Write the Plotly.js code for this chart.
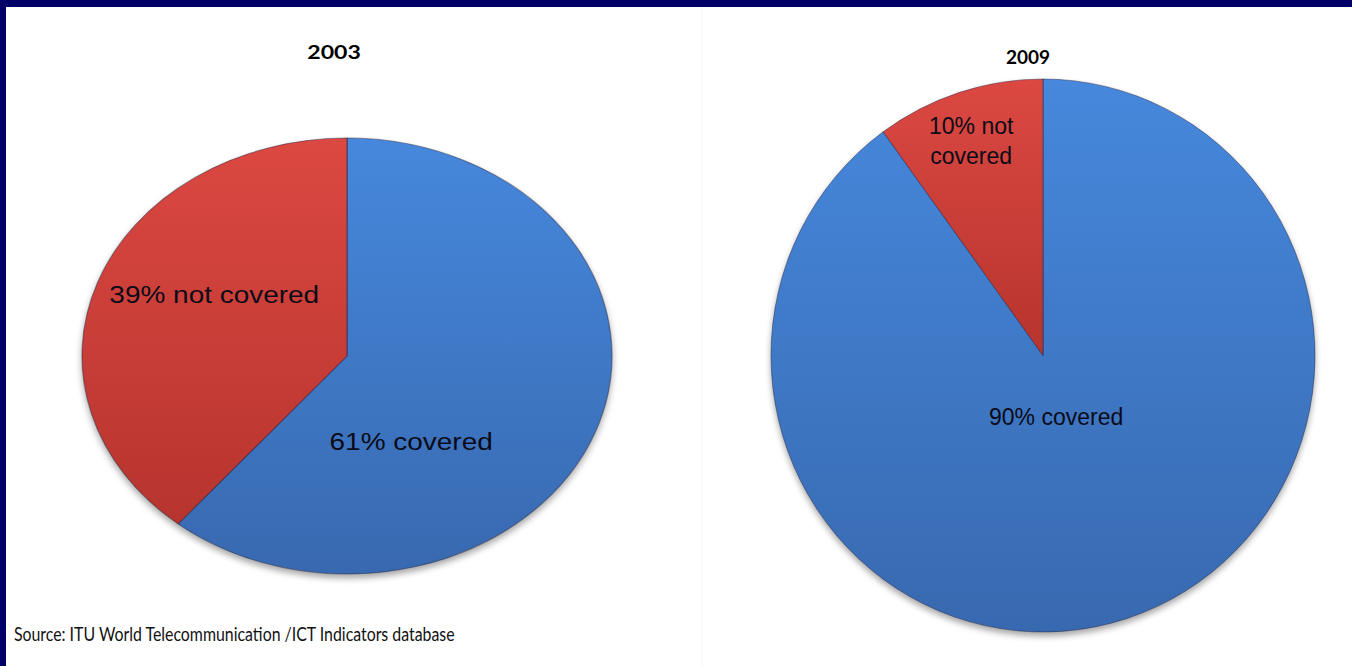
<!DOCTYPE html>
<html>
<head>
<meta charset="utf-8">
<script src="https://cdn.plot.ly/plotly-3.0.1.min.js"></script>
<style>
  html, body { margin: 0; padding: 0; background: #ffffff; }
  #chart { width: 1352px; height: 666px; }
</style>
</head>
<body>
<div id="chart"></div>
<script>
// ---- data ----
const years = ['2003', '2009'];
const sliceLabels = ['covered', 'not covered'];
const sliceLabelsWrapped = ['covered', 'not<br>covered'];
const values2003 = [61, 39];
const values2009 = [90, 10];
const sliceColors = ['#3f7bca', '#c83d37'];
const sourceText = 'Source: ITU World Telecommunication /ICT Indicators database';

// ---- layout helpers ----
const W = 1352, H = 666;
const fx = x => x / W;
const fy = y => 1 - y / H;
const navy = '#000066';
const labelFont = { family: 'Liberation Sans, Arial, sans-serif', size: 23, color: '#0b0b18' };
const titleFont = { family: 'Lato, Calibri, sans-serif', size: 19, color: '#000000', weight: 'bold' };

const pieCommon = {
  type: 'pie',
  sort: false,
  direction: 'clockwise',
  rotation: 0,
  textinfo: 'none',
  hoverinfo: 'skip',
  showlegend: false,
  marker: { colors: sliceColors, line: { color: 'rgba(30,30,60,0.45)', width: 1 } }
};

const data = [
  Object.assign({}, pieCommon, {
    name: years[0], labels: sliceLabels, values: values2003,
    domain: { x: [fx(129), fx(565)], y: [fy(574), fy(138)] }
  }),
  Object.assign({}, pieCommon, {
    name: years[1], labels: sliceLabels, values: values2009,
    domain: { x: [fx(766.5), fx(1319.5)], y: [fy(632), fy(79)] }
  })
];

function ann(text, x, y, font, extra) {
  return Object.assign({
    text: text, x: fx(x), y: fy(y), xref: 'paper', yref: 'paper',
    xanchor: 'center', yanchor: 'middle', showarrow: false, font: font
  }, extra || {});
}

const annotations = [
  ann(years[0], 333.5, 51, titleFont),
  ann(values2003[1] + '% ' + sliceLabels[1], 214, 295, labelFont),
  ann(values2003[0] + '% ' + sliceLabels[0], 410.5, 441.5, labelFont),
  ann(sourceText, 12, 633, { family: 'Lato, Calibri, sans-serif', size: 19, color: '#111111' }, { xanchor: 'left' }),
  ann(years[1], 1027.5, 56.5, titleFont),
  ann(values2009[1] + '% ' + sliceLabelsWrapped[1], 971, 141, { family: labelFont.family, size: 23, color: labelFont.color, lineposition: 'none' }),
  ann(values2009[0] + '% ' + sliceLabelsWrapped[0], 1055.5, 416.5, labelFont)
];

const layout = {
  width: W, height: H,
  margin: { l: 0, r: 0, t: 0, b: 0 },
  paper_bgcolor: '#ffffff',
  plot_bgcolor: '#ffffff',
  showlegend: false,
  annotations: annotations,
  shapes: [
    { type: 'line', xref: 'paper', yref: 'paper', x0: fx(702), x1: fx(702), y0: 0, y1: fy(7),
      line: { color: '#f6f6f6', width: 1 }, layer: 'below' },
    { type: 'rect', xref: 'paper', yref: 'paper', x0: 0, x1: fx(6), y0: 0, y1: 1,
      fillcolor: navy, line: { width: 0 }, layer: 'above' },
    { type: 'rect', xref: 'paper', yref: 'paper', x0: 0, x1: 1, y0: fy(7), y1: 1,
      fillcolor: navy, line: { width: 0 }, layer: 'above' }
  ]
};

Plotly.newPlot('chart', data, layout, { staticPlot: true, displayModeBar: false }).then(gd => {
  const svg = gd.querySelector('svg.main-svg');
  const sr = svg.getBoundingClientRect();
  const NS = 'http://www.w3.org/2000/svg';

  function stretchX(el, s, anchorLeft) {
    const r = el.getBoundingClientRect();
    const cx = (anchorLeft ? r.left : r.left + r.width / 2) - sr.left;
    const prev = el.getAttribute('transform') || '';
    el.setAttribute('transform', 'translate(' + cx + ',0) scale(' + s + ',1) translate(' + (-cx) + ',0) ' + prev);
  }

  // gradients to mimic the shaded slices
  const defs = svg.querySelector('defs') || svg.insertBefore(document.createElementNS(NS, 'defs'), svg.firstChild);
  function grad(id, c0, c1) {
    const g = document.createElementNS(NS, 'linearGradient');
    g.setAttribute('id', id);
    g.setAttribute('x1', '0'); g.setAttribute('y1', '0');
    g.setAttribute('x2', '0'); g.setAttribute('y2', '1');
    [[0, c0], [1, c1]].forEach(([o, c]) => {
      const st = document.createElementNS(NS, 'stop');
      st.setAttribute('offset', o); st.setAttribute('stop-color', c);
      g.appendChild(st);
    });
    defs.appendChild(g);
  }
  grad('gBlue', '#4688dc', '#3869b0');
  grad('gRed', '#dc4842', '#b7342e');

  const traces = gd.querySelectorAll('.pielayer g.trace');
  traces.forEach(t => {
    const paths = t.querySelectorAll('path.surface');
    paths.forEach((p, i) => { p.style.fill = i === 0 ? 'url(#gBlue)' : 'url(#gRed)'; });
    t.style.filter = 'drop-shadow(0px 4px 3px rgba(0,0,0,0.35))';
  });
  if (traces[0]) stretchX(traces[0], 265 / 218);
  if (traces[1]) stretchX(traces[1], 272 / 276.5);

  const anns = gd.querySelectorAll('.infolayer g.annotation');
  [0, 1, 2].forEach(i => { if (anns[i]) stretchX(anns[i], 1.216); });
  // source line: condense to the reference's measured width (441 px)
  if (anns[3]) {
    const t = anns[3].querySelector('text');
    const w = (t || anns[3]).getBoundingClientRect().width;
    if (w > 0) stretchX(anns[3], 441 / w, true);
  }
});
</script>
</body>
</html>
